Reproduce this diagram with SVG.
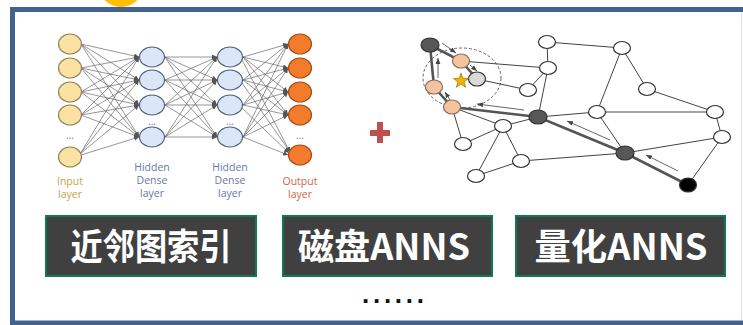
<svg xmlns="http://www.w3.org/2000/svg" width="743" height="325" viewBox="0 0 743 325">
  <style>
    .nn-edge { stroke: #5e5e5e; stroke-width: 0.65; marker-end: url(#nnArrow); }
    .in { fill: #fbe2a2; stroke: #8f8560; stroke-width: 1.2; }
    .hid { fill: #dbe6f8; stroke: #56647f; stroke-width: 1.2; }
    .out { fill: #f47a2c; stroke: #a34d14; stroke-width: 1.2; }
    .lbl { font-family: "Open Sans", "DejaVu Sans", sans-serif; font-size: 10.5px; text-anchor: middle; }
    .dots { font-family: "Open Sans", sans-serif; font-size: 10px; fill: #777; text-anchor: middle; }
    .g-edge { stroke: #444; stroke-width: 1; fill: none; }
    .g-path { stroke: #555; stroke-width: 2.6; fill: none; }
    .g-arrow { stroke: #555; stroke-width: 0.9; marker-end: url(#gArrow); }
    .gn { stroke: #333; stroke-width: 1.2; }
    .white { fill: #fff; }
    .dark { fill: #575757; }
    .peach { fill: #f5c39d; stroke: #8a7060; }
    .btn rect { fill: #404040; stroke: #0e7a55; stroke-width: 2; }
    .btn text { font-family: "Noto Sans CJK SC", "Noto Sans", sans-serif; font-weight: bold; font-size: 36px; fill: #fff; text-anchor: middle; }
  </style>
  <defs>
    <marker id="nnArrow" viewBox="0 0 10 10" refX="10" refY="5" markerWidth="5" markerHeight="5" markerUnits="userSpaceOnUse" orient="auto">
      <path d="M0,0 L10,5 L0,10 z" fill="#555"/>
    </marker>
    <marker id="gArrow" viewBox="0 0 10 10" refX="10" refY="5" markerWidth="6" markerHeight="6" markerUnits="userSpaceOnUse" orient="auto">
      <path d="M0,1 L10,5 L0,9 z" fill="#444"/>
    </marker>
  </defs>

  <rect width="743" height="325" fill="#fff"/>

  <!-- yellow badge peeking above the frame -->
  <circle cx="121" cy="-16" r="23" fill="#ffc000"/>

  <!-- outer frame -->
  <rect x="12.5" y="9.5" width="760" height="313.5" fill="#fff" stroke="#41618e" stroke-width="5"/>
  <line x1="741.5" y1="12" x2="741.5" y2="320" stroke="#e2e2e2" stroke-width="1"/>

  <!-- ===== dense neural network ===== -->
  <g id="nn-connectors">
    <!-- input -> hidden 1 -->
    <line class="nn-edge" x1="81" y1="44" x2="139" y2="57"/>
    <line class="nn-edge" x1="81" y1="44" x2="139" y2="80"/>
    <line class="nn-edge" x1="81" y1="44" x2="139" y2="105"/>
    <line class="nn-edge" x1="81" y1="44" x2="139" y2="137"/>
    <line class="nn-edge" x1="81" y1="68" x2="139" y2="57"/>
    <line class="nn-edge" x1="81" y1="68" x2="139" y2="80"/>
    <line class="nn-edge" x1="81" y1="68" x2="139" y2="105"/>
    <line class="nn-edge" x1="81" y1="68" x2="139" y2="137"/>
    <line class="nn-edge" x1="81" y1="92" x2="139" y2="57"/>
    <line class="nn-edge" x1="81" y1="92" x2="139" y2="80"/>
    <line class="nn-edge" x1="81" y1="92" x2="139" y2="105"/>
    <line class="nn-edge" x1="81" y1="92" x2="139" y2="137"/>
    <line class="nn-edge" x1="81" y1="115" x2="139" y2="57"/>
    <line class="nn-edge" x1="81" y1="115" x2="139" y2="80"/>
    <line class="nn-edge" x1="81" y1="115" x2="139" y2="105"/>
    <line class="nn-edge" x1="81" y1="115" x2="139" y2="137"/>
    <line class="nn-edge" x1="80" y1="154" x2="139" y2="57"/>
    <line class="nn-edge" x1="80" y1="154" x2="139" y2="80"/>
    <line class="nn-edge" x1="80" y1="154" x2="139" y2="105"/>
    <line class="nn-edge" x1="81" y1="155" x2="139" y2="137"/>
    <!-- hidden 1 -> hidden 2 -->
    <line class="nn-edge" x1="165" y1="57" x2="217" y2="57"/>
    <line class="nn-edge" x1="165" y1="57" x2="217" y2="80"/>
    <line class="nn-edge" x1="165" y1="57" x2="217" y2="105"/>
    <line class="nn-edge" x1="165" y1="57" x2="217" y2="137"/>
    <line class="nn-edge" x1="165" y1="80" x2="217" y2="57"/>
    <line class="nn-edge" x1="165" y1="80" x2="217" y2="80"/>
    <line class="nn-edge" x1="165" y1="80" x2="217" y2="105"/>
    <line class="nn-edge" x1="165" y1="80" x2="217" y2="137"/>
    <line class="nn-edge" x1="165" y1="105" x2="217" y2="57"/>
    <line class="nn-edge" x1="165" y1="105" x2="217" y2="80"/>
    <line class="nn-edge" x1="165" y1="105" x2="217" y2="105"/>
    <line class="nn-edge" x1="165" y1="105" x2="217" y2="137"/>
    <line class="nn-edge" x1="165" y1="137" x2="217" y2="57"/>
    <line class="nn-edge" x1="165" y1="137" x2="217" y2="80"/>
    <line class="nn-edge" x1="165" y1="137" x2="217" y2="105"/>
    <line class="nn-edge" x1="165" y1="137" x2="217" y2="137"/>
    <!-- hidden 2 -> output -->
    <line class="nn-edge" x1="243" y1="57" x2="288" y2="44"/>
    <line class="nn-edge" x1="243" y1="57" x2="288" y2="68"/>
    <line class="nn-edge" x1="243" y1="57" x2="288" y2="92"/>
    <line class="nn-edge" x1="243" y1="57" x2="288" y2="115"/>
    <line class="nn-edge" x1="242" y1="60" x2="290" y2="152"/>
    <line class="nn-edge" x1="243" y1="80" x2="288" y2="44"/>
    <line class="nn-edge" x1="243" y1="80" x2="288" y2="68"/>
    <line class="nn-edge" x1="243" y1="80" x2="288" y2="92"/>
    <line class="nn-edge" x1="243" y1="80" x2="288" y2="115"/>
    <line class="nn-edge" x1="242" y1="83" x2="290" y2="152"/>
    <line class="nn-edge" x1="243" y1="105" x2="288" y2="44"/>
    <line class="nn-edge" x1="243" y1="105" x2="288" y2="68"/>
    <line class="nn-edge" x1="243" y1="105" x2="288" y2="92"/>
    <line class="nn-edge" x1="243" y1="105" x2="288" y2="115"/>
    <line class="nn-edge" x1="242" y1="108" x2="289" y2="153"/>
    <line class="nn-edge" x1="243" y1="137" x2="288" y2="44"/>
    <line class="nn-edge" x1="243" y1="137" x2="288" y2="68"/>
    <line class="nn-edge" x1="243" y1="137" x2="288" y2="92"/>
    <line class="nn-edge" x1="243" y1="137" x2="288" y2="115"/>
    <line class="nn-edge" x1="243" y1="137" x2="288" y2="155"/>
  </g>

  <g id="input-layer">
    <ellipse class="in" cx="70" cy="44" rx="11.5" ry="10"/>
    <ellipse class="in" cx="70" cy="68" rx="11.5" ry="10"/>
    <ellipse class="in" cx="70" cy="92" rx="11.5" ry="10"/>
    <ellipse class="in" cx="70" cy="115" rx="11.5" ry="10"/>
    <text class="dots" x="70" y="139">...</text>
    <ellipse class="in" cx="70" cy="157" rx="11.5" ry="10"/>
    <text class="lbl" fill="#c9a24c" x="70" y="185">Input</text>
    <text class="lbl" fill="#c9a24c" x="70" y="198">layer</text>
  </g>

  <g id="hidden-layer-1">
    <ellipse class="hid" cx="152" cy="57" rx="12.5" ry="10"/>
    <ellipse class="hid" cx="152" cy="80" rx="12.5" ry="10"/>
    <ellipse class="hid" cx="152" cy="105" rx="12.5" ry="10"/>
    <text class="dots" x="152" y="125">...</text>
    <ellipse class="hid" cx="152" cy="137" rx="12.5" ry="10"/>
    <text class="lbl" fill="#6877a6" x="152" y="171">Hidden</text>
    <text class="lbl" fill="#6877a6" x="152" y="184">Dense</text>
    <text class="lbl" fill="#6877a6" x="152" y="197">layer</text>
  </g>

  <g id="hidden-layer-2">
    <ellipse class="hid" cx="230" cy="57" rx="12.5" ry="10"/>
    <ellipse class="hid" cx="230" cy="80" rx="12.5" ry="10"/>
    <ellipse class="hid" cx="230" cy="105" rx="12.5" ry="10"/>
    <text class="dots" x="230" y="125">...</text>
    <ellipse class="hid" cx="230" cy="137" rx="12.5" ry="10"/>
    <text class="lbl" fill="#6877a6" x="230" y="171">Hidden</text>
    <text class="lbl" fill="#6877a6" x="230" y="184">Dense</text>
    <text class="lbl" fill="#6877a6" x="230" y="197">layer</text>
  </g>

  <g id="output-layer">
    <ellipse class="out" cx="300" cy="44" rx="11.5" ry="10"/>
    <ellipse class="out" cx="300" cy="68" rx="11.5" ry="10"/>
    <ellipse class="out" cx="300" cy="92" rx="11.5" ry="10"/>
    <ellipse class="out" cx="300" cy="115" rx="11.5" ry="10"/>
    <text class="dots" x="300" y="139">...</text>
    <ellipse class="out" cx="300" cy="155" rx="11.5" ry="10"/>
    <text class="lbl" fill="#d0683c" x="300" y="185">Output</text>
    <text class="lbl" fill="#d0683c" x="300" y="198">layer</text>
  </g>

  <!-- plus sign -->
  <g id="plus" fill="#c0504d">
    <rect x="370" y="130" width="20" height="6"/>
    <rect x="377" y="122" width="6" height="21"/>
  </g>

  <!-- ===== proximity graph search ===== -->
  <g id="graph-connectors">
    <ellipse cx="462" cy="78" rx="39" ry="30" fill="none" stroke="#555" stroke-width="0.9" stroke-dasharray="3,2"/>
    <!-- ordinary edges -->
    <line class="g-edge" x1="461" y1="61" x2="548" y2="68"/>
    <line class="g-edge" x1="477" y1="79" x2="528" y2="90"/>
    <line class="g-edge" x1="548" y1="68" x2="528" y2="90"/>
    <line class="g-edge" x1="547" y1="42" x2="548" y2="68"/>
    <line class="g-edge" x1="548" y1="68" x2="538" y2="117"/>
    <line class="g-edge" x1="547" y1="42" x2="622" y2="48"/>
    <line class="g-edge" x1="622" y1="48" x2="647" y2="89"/>
    <line class="g-edge" x1="622" y1="48" x2="597" y2="112"/>
    <line class="g-edge" x1="647" y1="89" x2="715" y2="112"/>
    <line class="g-edge" x1="597" y1="112" x2="715" y2="112"/>
    <line class="g-edge" x1="538" y1="117" x2="597" y2="112"/>
    <line class="g-edge" x1="597" y1="112" x2="625" y2="153"/>
    <line class="g-edge" x1="715" y1="112" x2="722" y2="137"/>
    <line class="g-edge" x1="722" y1="137" x2="625" y2="153"/>
    <line class="g-edge" x1="722" y1="137" x2="688" y2="185"/>
    <line class="g-edge" x1="625" y1="153" x2="521" y2="161"/>
    <line class="g-edge" x1="538" y1="117" x2="503" y2="126"/>
    <line class="g-edge" x1="452" y1="107" x2="503" y2="126"/>
    <line class="g-edge" x1="452" y1="107" x2="463" y2="144"/>
    <line class="g-edge" x1="503" y1="126" x2="463" y2="144"/>
    <line class="g-edge" x1="503" y1="126" x2="476" y2="176"/>
    <line class="g-edge" x1="503" y1="126" x2="521" y2="161"/>
    <line class="g-edge" x1="521" y1="161" x2="476" y2="176"/>
    <!-- search route -->
    <polyline class="g-path" points="688,185 625,153 538,117 452,107 434,87 430,45 461,61 477,79"/>
    <!-- direction hints -->
    <line class="g-arrow" x1="442" y1="43" x2="456" y2="53"/>
    <line class="g-arrow" x1="470" y1="65" x2="477" y2="71"/>
    <line class="g-arrow" x1="438" y1="78" x2="438" y2="58"/>
    <line class="g-arrow" x1="450" y1="100" x2="445" y2="92"/>
    <line class="g-arrow" x1="524" y1="110" x2="477" y2="104"/>
    <line class="g-arrow" x1="610" y1="140" x2="567" y2="121"/>
    <line class="g-arrow" x1="678" y1="171" x2="646" y2="155"/>
  </g>

  <g id="graph-nodes">
    <ellipse id="n-entry-top" class="gn dark" cx="430" cy="45" rx="9" ry="7"/>
    <ellipse id="n-b" class="gn peach" cx="461" cy="61" rx="8.5" ry="7"/>
    <ellipse id="n-c" class="gn" fill="#d9d9d9" cx="477" cy="79" rx="8.5" ry="7"/>
    <ellipse id="n-d" class="gn peach" cx="434" cy="87" rx="8.5" ry="7"/>
    <ellipse id="n-e" class="gn peach" cx="452" cy="107" rx="8.5" ry="7"/>
    <ellipse id="n-f" class="gn white" cx="547" cy="42" rx="8.5" ry="6.5"/>
    <ellipse id="n-g" class="gn white" cx="548" cy="68" rx="8.5" ry="6.5"/>
    <ellipse id="n-h" class="gn white" cx="528" cy="90" rx="8.5" ry="6.5"/>
    <ellipse id="n-i" class="gn dark" cx="538" cy="117" rx="9" ry="7"/>
    <ellipse id="n-j" class="gn white" cx="622" cy="48" rx="8.5" ry="6.5"/>
    <ellipse id="n-k" class="gn white" cx="647" cy="89" rx="8.5" ry="6.5"/>
    <ellipse id="n-l" class="gn white" cx="597" cy="112" rx="8.5" ry="6.5"/>
    <ellipse id="n-m" class="gn white" cx="715" cy="112" rx="8.5" ry="6.5"/>
    <ellipse id="n-n" class="gn white" cx="722" cy="137" rx="8.5" ry="6.5"/>
    <ellipse id="n-o" class="gn dark" cx="625" cy="153" rx="9" ry="7"/>
    <ellipse id="n-start" class="gn" fill="#000" cx="688" cy="185" rx="8.5" ry="7"/>
    <ellipse id="n-q" class="gn white" cx="503" cy="126" rx="8.5" ry="6.5"/>
    <ellipse id="n-r" class="gn white" cx="463" cy="144" rx="8.5" ry="6.5"/>
    <ellipse id="n-s" class="gn white" cx="521" cy="161" rx="8.5" ry="6.5"/>
    <ellipse id="n-t" class="gn white" cx="476" cy="176" rx="8.5" ry="6.5"/>
    <!-- query point -->
    <polygon id="query" points="461,73 462.9,78.4 468.6,78.5 464,81.9 465.7,87.3 461,84 456.3,87.3 458,81.9 453.4,78.5 459.1,78.4" fill="#f2b300" stroke="#9a6d00" stroke-width="0.7"/>
  </g>

  <!-- ===== topic buttons ===== -->
  <g id="btn-graph-index" class="btn">
    <rect x="46" y="216" width="210" height="60"/>
    <text x="151" y="260" textLength="161" lengthAdjust="spacingAndGlyphs">近邻图索引</text>
  </g>
  <g id="btn-disk-anns" class="btn">
    <rect x="283" y="216" width="209" height="60"/>
    <text x="384" y="260" textLength="172" lengthAdjust="spacingAndGlyphs">磁盘ANNS</text>
  </g>
  <g id="btn-quant-anns" class="btn">
    <rect x="516" y="216" width="209" height="60"/>
    <text x="621" y="260" textLength="173" lengthAdjust="spacingAndGlyphs">量化ANNS</text>
  </g>

  <text x="393" y="303" font-family="Liberation Sans, Arial, sans-serif" font-weight="bold" font-size="26" text-anchor="middle" textLength="62" lengthAdjust="spacing" fill="#111">......</text>
</svg>
